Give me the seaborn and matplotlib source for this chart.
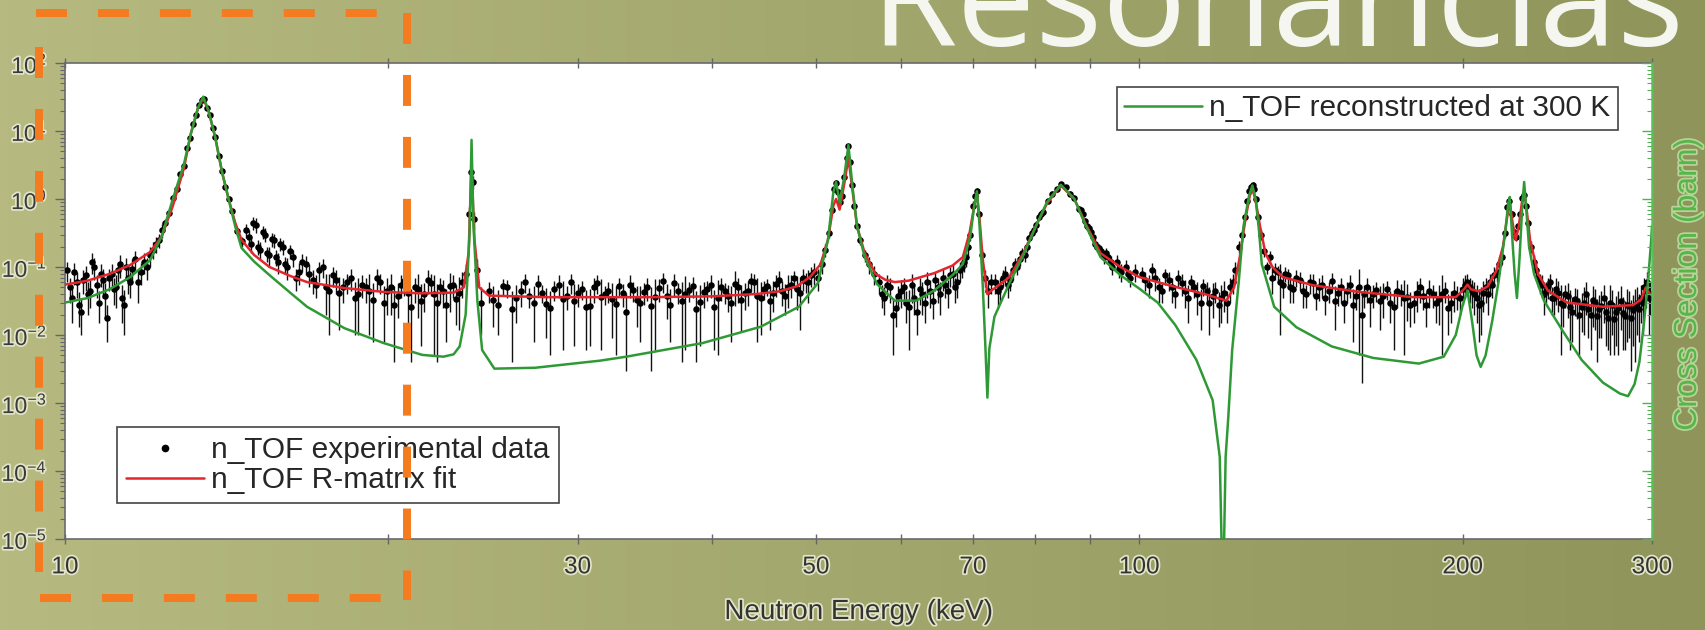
import numpy as np
import matplotlib
matplotlib.use("Agg")
import matplotlib.pyplot as plt
import matplotlib.patheffects as pe
from matplotlib.lines import Line2D
from matplotlib.ticker import FixedLocator, FixedFormatter, NullLocator, NullFormatter
import seaborn as sns

# ---------------- data ----------------
# n_TOF R-matrix fit (red)
fit_energy = [10, 10.5, 11, 11.5, 12, 12.3, 12.6, 12.9, 13.1, 13.3,
              13.45, 13.6, 13.8, 14.0, 14.2, 14.4, 14.6, 15.0, 15.5, 16.2,
              16.8, 18.2, 19.8, 21.5, 23.0, 23.5, 23.75, 23.9, 24.05, 24.3,
              24.8, 28, 35, 40, 44, 46.3, 48, 49.4, 50.5, 51.3,
              51.9, 52.2, 52.6, 53.1, 53.6, 54.1, 54.6, 55.5, 56.8, 58,
              59.2, 61, 64.4, 67, 68.5, 69.5, 70.2, 70.6, 71.0, 71.5,
              72.2, 72.8, 73.5, 75.7, 78, 80, 82, 84.5, 87, 89,
              92, 96, 100, 108, 115, 120.5, 122.5, 124, 125.5, 126.7,
              127.4, 128.2, 129.5, 131, 133, 136, 145, 160, 180, 197,
              200.5, 202, 203.5, 207, 211, 215, 218, 220, 221.2, 222.5,
              224, 225.5, 227, 228.2, 229.5, 231, 235, 240, 250, 270,
              288, 293, 296, 298, 300]
fit_sigma = [0.055, 0.063, 0.079, 0.107, 0.166, 0.28, 0.79, 2.8, 9.3, 22,
             30, 20, 8, 2.5, 1.0, 0.45, 0.25, 0.15, 0.1, 0.074,
             0.060, 0.049, 0.043, 0.041, 0.042, 0.05, 0.16, 2.95, 0.25, 0.05,
             0.038, 0.036, 0.036, 0.037, 0.040, 0.044, 0.052, 0.072, 0.11, 0.25,
             0.8, 1.0, 0.7, 1.6, 4.0, 1.26, 0.4, 0.16, 0.079, 0.065,
             0.060, 0.063, 0.081, 0.105, 0.14, 0.32, 0.8, 1.2, 0.5, 0.126,
             0.04, 0.045, 0.05, 0.071, 0.16, 0.38, 0.85, 1.58, 1.0, 0.45,
             0.16, 0.1, 0.071, 0.051, 0.040, 0.032, 0.05, 0.14, 0.5, 1.12,
             1.41, 1.0, 0.4, 0.16, 0.1, 0.071, 0.054, 0.043, 0.036, 0.036,
             0.047, 0.055, 0.047, 0.044, 0.052, 0.089, 0.2, 0.56, 0.89, 0.45,
             0.25, 0.4, 0.89, 1.26, 0.63, 0.25, 0.079, 0.045, 0.030, 0.026,
             0.0275, 0.033, 0.05, 0.042, 0.038]

# n_TOF reconstructed at 300 K (green)
rec_energy = [10, 10.5, 11, 11.5, 12.0, 12.3, 12.6, 12.9, 13.1, 13.3,
              13.45, 13.6, 13.8, 14.0, 14.2, 14.4, 14.6, 15.0, 15.5, 16.2,
              16.8, 18.2, 19.8, 21.5, 22.5, 23.0, 23.3, 23.6, 23.8, 23.9,
              24.0, 24.2, 24.45, 25.1, 27.4, 31.5, 33.3, 39.2, 44.4, 48.2,
              50.2, 51.3, 51.9, 52.2, 52.6, 53.1, 53.6, 54.1, 54.6, 55.5,
              57, 59.2, 62, 64.4, 67, 68.5, 69.6, 70.2, 70.6, 71.0,
              71.5, 71.9, 72.2, 72.5, 73.3, 75.7, 78, 80, 82, 84.5,
              87, 89, 92, 96, 100, 104, 108, 113, 117, 118.8,
              119.6, 120.3, 121, 122, 123.7, 125, 126.5, 127.4, 128.3, 129.2,
              130, 133.5, 140, 151, 165, 182, 192, 197, 200, 202,
              204, 206, 207.8, 210, 213, 216, 219, 220.5, 221.2, 222.2,
              223.5, 224.6, 225.8, 227.2, 228.1, 229, 230.5, 233, 238, 248,
              258, 270, 280, 285, 289, 292, 295, 297.5, 299.5, 300]
rec_sigma = [0.030, 0.035, 0.047, 0.071, 0.126, 0.28, 1.0, 3.2, 9.3, 22,
             32, 20, 8, 2.5, 1.0, 0.4, 0.19, 0.12, 0.076, 0.042,
             0.026, 0.0126, 0.0076, 0.0051, 0.0048, 0.0052, 0.0068, 0.02, 0.32, 7.4,
             0.4, 0.032, 0.006, 0.0032, 0.0033, 0.0042, 0.0048, 0.0076, 0.0132, 0.026,
             0.058, 0.25, 1.26, 1.78, 0.89, 2.0, 6.2, 1.4, 0.4, 0.14,
             0.056, 0.032, 0.032, 0.045, 0.076, 0.11, 0.28, 0.8, 1.3, 0.4,
             0.05, 0.0063, 0.0012, 0.0063, 0.0186, 0.058, 0.15, 0.38, 0.89, 1.62,
             1.0, 0.43, 0.14, 0.076, 0.048, 0.030, 0.014, 0.0043, 0.0011, 0.00016,
             1e-6, 0.00016, 0.00063, 0.006, 0.058, 0.4, 1.12, 1.58, 1.0, 0.35,
             0.11, 0.026, 0.013, 0.0068, 0.0046, 0.0038, 0.0048, 0.01, 0.028, 0.045,
             0.016, 0.005, 0.0034, 0.005, 0.016, 0.063, 0.32, 0.89, 1.07, 0.32,
             0.079, 0.035, 0.126, 0.8, 1.78, 0.8, 0.2, 0.079, 0.032, 0.0112,
             0.0043, 0.002, 0.00138, 0.00126, 0.0019, 0.004, 0.016, 0.063, 0.25, 0.4]

# n_TOF experimental data (energy keV, cross section barn, uncertainty barn)
exp_E_a = [10.05, 10.15, 10.25, 10.35, 10.45, 10.55, 10.65, 10.75, 10.85, 10.95, 11.05,
           11.15, 11.25, 11.35, 11.45, 11.55, 11.7, 11.85, 12.0, 12.15, 12.3,
           10.1, 10.2, 10.3, 10.4, 10.5, 10.6, 10.7, 10.8, 10.9, 11.0,
           11.1, 11.2, 11.3, 11.4, 11.5, 11.62, 11.77, 11.92, 12.07, 12.22]
exp_S_a = [0.09, 0.035, 0.06, 0.022, 0.075, 0.045, 0.1, 0.03, 0.065, 0.018, 0.08,
           0.05, 0.11, 0.028, 0.07, 0.095, 0.06, 0.12, 0.15, 0.22, 0.35,
           0.05, 0.085, 0.028, 0.065, 0.04, 0.12, 0.055, 0.08, 0.038, 0.07,
           0.048, 0.09, 0.035, 0.1, 0.06, 0.13, 0.085, 0.1, 0.18, 0.25]
exp_D_a = [0.03, 0.02, 0.025, 0.012, 0.03, 0.02, 0.035, 0.015, 0.03, 0.01, 0.03,
           0.025, 0.04, 0.018, 0.03, 0.035, 0.03, 0.04, 0.05, 0.06, 0.08,
           0.02, 0.03, 0.015, 0.025, 0.02, 0.04, 0.02, 0.03, 0.02, 0.025,
           0.02, 0.03, 0.02, 0.035, 0.025, 0.04, 0.03, 0.035, 0.05, 0.06]

exp_E_b = [12.4, 12.5, 12.6, 12.7, 12.8, 12.9, 13.0, 13.08, 13.16, 13.24, 13.32, 13.4,
           13.48, 13.56, 13.64, 13.72, 13.8, 13.9, 14.0, 14.1, 14.2, 14.3, 14.45, 14.6]
exp_S_b = [0.45, 0.62, 1.05, 1.4, 2.3, 3.1, 5.6, 8.0, 12.5, 17, 24, 29,
           30, 22, 17, 11, 8.2, 4.3, 2.6, 1.5, 1.0, 0.66, 0.34, 0.24]
exp_D_b = [0.05, 0.06, 0.09, 0.12, 0.2, 0.25, 0.45, 0.6, 1.0, 1.3, 1.8, 2.2,
           2.3, 1.7, 1.3, 0.9, 0.65, 0.35, 0.22, 0.13, 0.09, 0.06, 0.04, 0.04]

exp_E_c = [14.75, 14.9, 15.05, 15.2, 15.35, 15.5, 15.65, 15.8, 15.95, 16.1, 16.3, 16.5,
           16.75, 17.0, 17.25, 17.5, 17.75, 18.0, 18.3, 18.6, 18.9, 19.2, 19.5, 19.8,
           20.1, 20.4, 20.7, 21.0, 21.3, 21.6, 21.9, 22.2, 22.5, 22.8, 23.1, 23.4,
           14.82, 14.97, 15.12, 15.27, 15.42, 15.57, 15.72, 15.87, 16.02, 16.2,
           16.4, 16.62, 16.87, 17.12, 17.37, 17.62, 17.87, 18.15, 18.45, 18.75,
           19.05, 19.35, 19.65, 19.95, 20.25, 20.55, 20.85, 21.15, 21.45, 21.75,
           22.05, 22.35, 22.65, 22.95, 23.25]
exp_S_c = [0.35, 0.22, 0.42, 0.18, 0.3, 0.15, 0.25, 0.12, 0.2, 0.1, 0.14, 0.085,
           0.11, 0.065, 0.09, 0.05, 0.075, 0.042, 0.06, 0.035, 0.055, 0.045, 0.07, 0.03,
           0.05, 0.038, 0.062, 0.026, 0.048, 0.04, 0.058, 0.03, 0.045, 0.052, 0.034, 0.06,
           0.28, 0.45, 0.2, 0.33, 0.16, 0.26, 0.14, 0.22, 0.11, 0.17,
           0.07, 0.12, 0.08, 0.055, 0.1, 0.045, 0.065, 0.05, 0.07, 0.04,
           0.05, 0.033, 0.06, 0.045, 0.028, 0.055, 0.042, 0.05, 0.032, 0.065,
           0.04, 0.05, 0.028, 0.055, 0.042]
exp_D_c = [0.08, 0.06, 0.1, 0.05, 0.07, 0.05, 0.06, 0.04, 0.05, 0.035, 0.04, 0.03,
           0.035, 0.025, 0.03, 0.03, 0.025, 0.03, 0.02, 0.025, 0.02, 0.035, 0.025, 0.022,
           0.03, 0.02, 0.025, 0.022, 0.03, 0.018, 0.02, 0.026, 0.02, 0.03, 0.02, 0.025,
           0.07, 0.1, 0.05, 0.07, 0.04, 0.06, 0.035, 0.05, 0.03, 0.04,
           0.025, 0.035, 0.03, 0.02, 0.03, 0.035, 0.025, 0.02, 0.025, 0.03,
           0.02, 0.025, 0.02, 0.025, 0.024, 0.02, 0.03, 0.02, 0.025, 0.025,
           0.035, 0.02, 0.02, 0.02, 0.03]

exp_E_d = [23.6, 23.75, 23.85, 23.95, 24.05, 24.2, 24.4]
exp_S_d = [0.08, 0.6, 2.5, 1.8, 0.5, 0.09, 0.03]
exp_D_d = [0.03, 0.15, 0.5, 0.4, 0.15, 0.04, 0.02]

exp_E_e = [24.8, 25.3, 25.8, 26.3, 26.8, 27.3, 27.8, 28.3, 28.8, 29.3,
           29.8, 30.3, 30.8, 31.3, 31.8, 32.3, 32.8, 33.3, 33.8, 34.3,
           34.8, 35.4, 36.0, 36.6, 37.2, 37.8, 38.4, 39.0, 39.6, 40.2,
           40.8, 41.4, 42.0, 42.6, 43.2, 43.8, 44.4, 45.0, 45.6, 46.2,
           46.8, 47.4, 48.0, 48.6, 49.2, 49.8,
           25.05, 25.55, 26.05, 26.55, 27.05, 27.55, 28.05, 28.55, 29.05, 29.55,
           30.05, 30.55, 31.05, 31.55, 32.05, 32.55, 33.05, 33.55, 34.05, 34.55,
           35.1, 35.7, 36.3, 36.9, 37.5, 38.1, 38.7, 39.3, 39.9, 40.5,
           41.1, 41.7, 42.3, 42.9, 43.5, 44.1, 44.7, 45.3, 45.9, 46.5,
           47.1, 47.7, 48.3, 48.9, 49.5]
exp_S_e = [0.045, 0.028, 0.05, 0.035, 0.06, 0.03, 0.042, 0.025, 0.055, 0.038,
           0.032, 0.048, 0.027, 0.058, 0.04, 0.034, 0.052, 0.022, 0.046, 0.03,
           0.05, 0.036, 0.062, 0.028, 0.044, 0.04, 0.053, 0.031, 0.047, 0.026,
           0.05, 0.038, 0.057, 0.033, 0.045, 0.06, 0.035, 0.052, 0.042, 0.065,
           0.038, 0.055, 0.048, 0.07, 0.06, 0.085,
           0.033, 0.052, 0.024, 0.044, 0.037, 0.056, 0.029, 0.047, 0.034, 0.06,
           0.041, 0.026, 0.05, 0.036, 0.045, 0.029, 0.041, 0.055, 0.033, 0.043,
           0.027, 0.049, 0.037, 0.058, 0.032, 0.046, 0.024, 0.043, 0.055, 0.035,
           0.044, 0.03, 0.05, 0.041, 0.063, 0.038, 0.048, 0.032, 0.056, 0.045,
           0.05, 0.068, 0.042, 0.062, 0.075]
exp_D_e = [0.015, 0.018, 0.015, 0.02, 0.018, 0.022, 0.012, 0.02, 0.02, 0.015,
           0.025, 0.015, 0.02, 0.018, 0.012, 0.025, 0.016, 0.019, 0.015, 0.022,
           0.018, 0.03, 0.02, 0.02, 0.015, 0.034, 0.018, 0.024, 0.015, 0.02,
           0.018, 0.016, 0.03, 0.022, 0.018, 0.02, 0.025, 0.015, 0.02, 0.022,
           0.018, 0.02, 0.025, 0.025, 0.03, 0.03,
           0.02, 0.015, 0.02, 0.018, 0.012, 0.02, 0.02, 0.015, 0.028, 0.02,
           0.015, 0.02, 0.02, 0.03, 0.015, 0.024, 0.015, 0.02, 0.02, 0.015,
           0.024, 0.018, 0.02, 0.02, 0.028, 0.015, 0.02, 0.018, 0.02, 0.03,
           0.015, 0.022, 0.02, 0.018, 0.02, 0.03, 0.015, 0.02, 0.02, 0.018,
           0.025, 0.02, 0.03, 0.02, 0.025]

exp_E_f = [50.2, 50.6, 51.0, 51.4, 51.7, 52.0, 52.2, 52.4, 52.65, 52.9, 53.15,
           53.4, 53.6, 53.8, 54.05, 54.3, 54.6, 55.0, 55.5, 56.0, 56.6]
exp_S_f = [0.07, 0.11, 0.18, 0.32, 0.7, 1.4, 1.7, 1.25, 0.9, 1.1, 2.1,
           4.0, 6.0, 3.5, 1.6, 0.8, 0.4, 0.25, 0.15, 0.11, 0.08]
exp_D_f = [0.025, 0.03, 0.04, 0.05, 0.08, 0.15, 0.18, 0.13, 0.1, 0.12, 0.2,
           0.35, 0.5, 0.3, 0.15, 0.08, 0.05, 0.04, 0.03, 0.03, 0.025]

exp_E_g = [57.2, 57.9, 58.6, 59.3, 60.0, 60.7, 61.4, 62.1, 62.8, 63.5,
           64.2, 64.9, 65.6, 66.3, 67.0, 67.7, 68.4, 69.0, 69.5, 70.0,
           57.55, 58.25, 58.95, 59.65, 60.35, 61.05, 61.75, 62.45, 63.15, 63.85,
           64.55, 65.25, 65.95, 66.65, 67.35, 68.05, 68.7, 69.25]
exp_S_g = [0.06, 0.035, 0.05, 0.025, 0.045, 0.03, 0.055, 0.022, 0.04, 0.06,
           0.032, 0.05, 0.07, 0.045, 0.08, 0.06, 0.1, 0.14, 0.3, 0.8,
           0.04, 0.055, 0.02, 0.038, 0.05, 0.026, 0.035, 0.048, 0.03, 0.045,
           0.065, 0.04, 0.055, 0.075, 0.05, 0.09, 0.12, 0.2]
exp_D_g = [0.02, 0.015, 0.02, 0.012, 0.02, 0.015, 0.025, 0.012, 0.02, 0.025,
           0.015, 0.02, 0.025, 0.02, 0.03, 0.025, 0.03, 0.04, 0.06, 0.12,
           0.015, 0.02, 0.015, 0.015, 0.02, 0.02, 0.015, 0.02, 0.015, 0.02,
           0.02, 0.02, 0.02, 0.025, 0.02, 0.03, 0.035, 0.05]

exp_E_h = [70.3, 70.6, 70.9, 71.3, 71.8, 72.3, 72.8]
exp_S_h = [1.1, 1.3, 0.6, 0.15, 0.07, 0.045, 0.06]
exp_D_h = [0.12, 0.13, 0.07, 0.03, 0.02, 0.02, 0.02]

exp_E_i = [73.4, 74.2, 75.0, 75.8, 76.6, 77.4, 78.2, 79.0, 79.8, 80.6,
           81.4, 82.2, 83.0, 83.8, 84.6, 85.4, 86.2, 87.0, 87.8, 88.6,
           89.4, 90.2, 91.0, 91.8, 92.6, 93.5, 94.4, 95.3, 96.2, 97.1,
           98.0, 99.0,
           73.8, 74.6, 75.4, 76.2, 77.0, 77.8, 78.6, 79.4, 80.2, 81.0,
           88.2, 89.0, 89.8, 90.6, 91.4, 92.2, 93.0, 94.0, 95.8, 97.6]
exp_S_i = [0.06, 0.05, 0.08, 0.065, 0.11, 0.13, 0.15, 0.27, 0.35, 0.55,
           0.65, 0.95, 1.2, 1.4, 1.65, 1.5, 1.2, 1.05, 0.72, 0.6,
           0.4, 0.33, 0.22, 0.19, 0.14, 0.14, 0.1, 0.12, 0.085, 0.1,
           0.07, 0.085,
           0.045, 0.07, 0.055, 0.09, 0.1, 0.16, 0.2, 0.32, 0.42, 0.6,
           0.68, 0.48, 0.38, 0.28, 0.2, 0.17, 0.16, 0.12, 0.095, 0.08]
exp_D_i = [0.02, 0.02, 0.025, 0.02, 0.025, 0.025, 0.03, 0.04, 0.05, 0.06,
           0.07, 0.09, 0.1, 0.12, 0.13, 0.12, 0.1, 0.09, 0.07, 0.06,
           0.05, 0.04, 0.035, 0.03, 0.03, 0.03, 0.025, 0.03, 0.025, 0.025,
           0.02, 0.025,
           0.02, 0.02, 0.02, 0.025, 0.025, 0.03, 0.035, 0.045, 0.05, 0.06,
           0.07, 0.05, 0.045, 0.04, 0.035, 0.03, 0.03, 0.025, 0.025, 0.02]

exp_E_j = [100.5, 102, 103.5, 105, 106.5, 108, 109.5, 111, 112.5, 114,
           115.5, 117, 118.5, 120, 121.5, 122.8, 123.8,
           101.2, 102.7, 104.2, 105.7, 107.2, 108.7, 110.2, 111.7, 113.2, 114.7,
           116.2, 117.7, 119.2, 120.7, 122.2]
exp_S_j = [0.08, 0.055, 0.07, 0.045, 0.065, 0.04, 0.058, 0.035, 0.05, 0.03,
           0.045, 0.038, 0.028, 0.042, 0.05, 0.09, 0.2,
           0.065, 0.09, 0.05, 0.075, 0.05, 0.07, 0.045, 0.06, 0.04, 0.052,
           0.03, 0.045, 0.035, 0.03, 0.06]
exp_D_j = [0.02, 0.02, 0.025, 0.015, 0.02, 0.015, 0.02, 0.02, 0.015, 0.018,
           0.015, 0.02, 0.015, 0.02, 0.02, 0.03, 0.04,
           0.02, 0.025, 0.02, 0.02, 0.02, 0.02, 0.02, 0.015, 0.02, 0.015,
           0.02, 0.015, 0.02, 0.015, 0.02]

exp_E_k = [124.6, 125.3, 126.0, 126.6, 127.1, 127.5, 127.9, 128.4, 129.0, 129.7, 130.5]
exp_S_k = [0.3, 0.55, 0.95, 1.3, 1.5, 1.6, 1.4, 1.0, 0.55, 0.3, 0.17]
exp_D_k = [0.05, 0.07, 0.1, 0.13, 0.15, 0.15, 0.13, 0.1, 0.07, 0.05, 0.03]

exp_E_l = [131.5, 133, 134.5, 136, 137.5, 139, 141, 143, 145, 147,
           149, 151, 153, 155, 157, 159, 161, 163, 165, 167.5,
           170, 172.5, 175, 177.5, 180, 182.5, 185, 187.5, 190, 192.5,
           195, 197.5, 200, 202, 204, 206, 208, 210, 212, 214, 216,
           132.2, 133.7, 135.2, 136.7, 138.2, 140, 142, 144, 146, 148,
           150, 152, 154, 156, 158, 160, 162, 164, 166.2, 168.7,
           171.2, 173.7, 176.2, 178.7, 181.2, 183.7, 186.2, 188.7, 191.2, 193.7,
           196.2, 198.7, 201, 203, 205, 207, 209, 211, 213, 215]
exp_S_l = [0.1, 0.07, 0.085, 0.055, 0.075, 0.048, 0.065, 0.04, 0.058, 0.05,
           0.035, 0.062, 0.042, 0.03, 0.055, 0.038, 0.02, 0.05, 0.04, 0.032,
           0.048, 0.026, 0.042, 0.036, 0.03, 0.05, 0.028, 0.04, 0.034, 0.045,
           0.03, 0.038, 0.048, 0.06, 0.045, 0.035, 0.03, 0.05, 0.06, 0.075, 0.11,
           0.14, 0.09, 0.06, 0.08, 0.05, 0.07, 0.045, 0.06, 0.038, 0.055,
           0.045, 0.032, 0.05, 0.045, 0.028, 0.05, 0.04, 0.033, 0.046, 0.038,
           0.03, 0.045, 0.035, 0.028, 0.042, 0.038, 0.045, 0.03, 0.04, 0.025,
           0.042, 0.035, 0.055, 0.05, 0.04, 0.028, 0.042, 0.04, 0.055, 0.085]
exp_D_l = [0.02, 0.03, 0.02, 0.02, 0.02, 0.018, 0.02, 0.015, 0.02, 0.018,
           0.015, 0.02, 0.015, 0.015, 0.02, 0.015, 0.018, 0.02, 0.015, 0.02,
           0.015, 0.02, 0.015, 0.02, 0.015, 0.02, 0.015, 0.015, 0.02, 0.015,
           0.015, 0.015, 0.02, 0.02, 0.02, 0.02, 0.02, 0.02, 0.02, 0.025, 0.03,
           0.03, 0.025, 0.05, 0.02, 0.02, 0.02, 0.02, 0.02, 0.015, 0.02,
           0.015, 0.02, 0.02, 0.015, 0.02, 0.045, 0.015, 0.02, 0.015, 0.02,
           0.015, 0.02, 0.03, 0.015, 0.02, 0.015, 0.02, 0.015, 0.035, 0.015,
           0.02, 0.015, 0.02, 0.02, 0.02, 0.02, 0.02, 0.02, 0.02, 0.025]

exp_E_m = [217.5, 219, 220, 221, 222, 223, 224, 225, 226, 227, 228, 229, 230, 231.5]
exp_S_m = [0.14, 0.32, 0.75, 0.95, 0.6, 0.33, 0.28, 0.4, 0.6, 1.05, 1.15, 0.8, 0.45, 0.2]
exp_D_m = [0.03, 0.05, 0.08, 0.1, 0.07, 0.05, 0.04, 0.05, 0.07, 0.1, 0.12, 0.08, 0.06, 0.04]

exp_E_n = [233, 235, 237, 239, 241, 243, 245.5, 248, 250.5, 253,
           255.5, 258, 260.5, 263, 265.5, 268, 270.5, 273, 275.5, 278,
           280.5, 283, 285.5, 288, 290.5, 293, 295, 297, 299,
           234, 236, 238, 240, 242, 244.2, 246.7, 249.2, 251.7, 254.2,
           256.7, 259.2, 261.7, 264.2, 266.7, 269.2, 271.7, 274.2, 276.7, 279.2,
           281.7, 284.2, 286.7, 289.2, 291.7, 294, 296, 298]
exp_S_n = [0.12, 0.07, 0.055, 0.045, 0.06, 0.035, 0.042, 0.028, 0.038, 0.022,
           0.032, 0.026, 0.04, 0.02, 0.03, 0.024, 0.035, 0.018, 0.028, 0.022,
           0.032, 0.019, 0.027, 0.023, 0.03, 0.035, 0.05, 0.06, 0.04,
           0.09, 0.06, 0.04, 0.052, 0.035, 0.048, 0.03, 0.04, 0.026, 0.034,
           0.02, 0.03, 0.024, 0.033, 0.019, 0.027, 0.022, 0.03, 0.017, 0.025,
           0.021, 0.028, 0.018, 0.026, 0.024, 0.03, 0.045, 0.035]
exp_D_n = [0.03, 0.02, 0.02, 0.015, 0.02, 0.015, 0.02, 0.015, 0.02, 0.014,
           0.015, 0.015, 0.02, 0.014, 0.018, 0.015, 0.02, 0.012, 0.018, 0.015,
           0.02, 0.013, 0.018, 0.016, 0.02, 0.02, 0.02, 0.025, 0.02,
           0.025, 0.02, 0.02, 0.018, 0.015, 0.02, 0.025, 0.015, 0.02, 0.015,
           0.015, 0.02, 0.015, 0.02, 0.015, 0.018, 0.015, 0.025, 0.012, 0.02,
           0.015, 0.02, 0.015, 0.022, 0.016, 0.02, 0.02, 0.025]

x_tick_values = [10, 20, 30, 40, 50, 60, 70, 80, 90, 100, 200, 300]
x_tick_labels = ['10', '', '30', '', '50', '', '70', '', '', '100', '200', '300']
y_tick_values = [1e-5, 1e-4, 1e-3, 1e-2, 1e-1, 1e0, 1e1, 1e2]
y_tick_labels = ['$10^{-5}$', '$10^{-4}$', '$10^{-3}$', '$10^{-2}$',
                 '$10^{-1}$', '$10^{0}$', '$10^{1}$', '$10^{2}$']

# ---------------- assemble ----------------
exp_energy = np.array(exp_E_a + exp_E_b + exp_E_c + exp_E_d + exp_E_e + exp_E_f + exp_E_g
                      + exp_E_h + exp_E_i + exp_E_j + exp_E_k + exp_E_l + exp_E_m + exp_E_n)
exp_sigma = np.array(exp_S_a + exp_S_b + exp_S_c + exp_S_d + exp_S_e + exp_S_f + exp_S_g
                     + exp_S_h + exp_S_i + exp_S_j + exp_S_k + exp_S_l + exp_S_m + exp_S_n)
exp_err = np.array(exp_D_a + exp_D_b + exp_D_c + exp_D_d + exp_D_e + exp_D_f + exp_D_g
                   + exp_D_h + exp_D_i + exp_D_j + exp_D_k + exp_D_l + exp_D_m + exp_D_n)

# ---------------- style ----------------
sns.set_style("white")
plt.rcParams['font.family'] = ['Liberation Sans', 'DejaVu Sans']
plt.rcParams['mathtext.fontset'] = 'custom'
plt.rcParams['mathtext.rm'] = 'Liberation Sans'
plt.rcParams['mathtext.it'] = 'Liberation Sans:italic'
plt.rcParams['mathtext.default'] = 'regular'
plt.rcParams['lines.scale_dashes'] = False

W, H = 1706, 630
RED = '#e3262d'
GREEN = '#2f9a35'
fig = plt.figure(figsize=(W / 100, H / 100), dpi=100)

# slide background (olive gradient)
bg = fig.add_axes([0, 0, 1, 1], zorder=-10)
bg.set_axis_off()
c_left = np.array([182, 186, 128]) / 255
c_right = np.array([142, 148, 90]) / 255
tt = np.linspace(0, 1, 256)[:, None]
grad = c_left[None, :] * (1 - tt) + c_right[None, :] * tt
bg.imshow(grad[None, :, :], aspect='auto', extent=[0, 1, 0, 1])

# slide title, cut off at the top
fig.text(870 / W, 1 - 46 / H, 'Resonancias', fontsize=101, color='#f6f6f0',
         family=['Open Sans', 'DejaVu Sans'], ha='left', va='baseline')

# main axes
AX_L, AX_R, AX_T, AX_B = 65, 1652, 63, 539
ax = fig.add_axes([AX_L / W, 1 - AX_B / H, (AX_R - AX_L) / W, (AX_B - AX_T) / H])
ax.set_facecolor('white')
ax.set_xscale('log')
ax.set_yscale('log')

lower = np.minimum(exp_err, 0.95 * exp_sigma)
ax.errorbar(exp_energy, exp_sigma, yerr=[lower, exp_err], fmt='none',
            ecolor='#111111', elinewidth=1.0, zorder=2)
sns.scatterplot(x=exp_energy, y=exp_sigma, ax=ax, color='black', s=22,
                linewidth=0, zorder=3, legend=False)
sns.lineplot(x=fit_energy, y=fit_sigma, ax=ax, color=RED, linewidth=1.8,
             estimator=None, sort=False, zorder=4)
sns.lineplot(x=rec_energy, y=rec_sigma, ax=ax, color=GREEN, linewidth=1.8,
             estimator=None, sort=False, zorder=5)

ax.set_xlim(10, 300)
ax.set_ylim(1e-5, 1e2)

halo = [pe.withStroke(linewidth=2.5, foreground='#e2e5c8')]
ax.xaxis.set_major_locator(FixedLocator(x_tick_values))
ax.xaxis.set_major_formatter(FixedFormatter(x_tick_labels))
ax.xaxis.set_minor_locator(NullLocator())
ax.yaxis.set_major_locator(FixedLocator(y_tick_values))
ax.yaxis.set_major_formatter(FixedFormatter(y_tick_labels))
minor_y = [m * 10.0 ** e for e in range(-5, 2) for m in range(2, 10)]
ax.yaxis.set_minor_locator(FixedLocator(minor_y))
ax.yaxis.set_minor_formatter(NullFormatter())

ax.tick_params(axis='x', which='major', direction='inout', length=7, width=1,
               color='#666666', labelcolor='#333333', labelsize=17.5, pad=9,
               top=True, bottom=True)
ax.tick_params(axis='y', which='major', direction='out', length=7, width=1,
               color='#666666', labelcolor='#3a3a3a', labelsize=16.5, pad=6)
ax.tick_params(axis='y', which='minor', direction='out', length=3.5, width=0.8,
               color='#666666')
for lab in ax.get_xticklabels() + ax.get_yticklabels():
    lab.set_path_effects(halo)

for side in ['left', 'top', 'bottom']:
    ax.spines[side].set_color('#6a6a6a')
    ax.spines[side].set_linewidth(1.2)
ax.spines['right'].set_visible(False)

ax.set_xlabel('Neutron Energy (keV)', fontsize=20, color='#333333')
ax.xaxis.label.set_va('center')
ax.xaxis.set_label_coords(0.5, (AX_B - 612) / (AX_B - AX_T))
ax.xaxis.label.set_path_effects(halo)
ax.set_ylabel('')

# right axis (green)
ax2 = ax.twinx()
ax2.set_yscale('log')
ax2.set_ylim(1e-5, 1e2)
ax2.yaxis.set_major_locator(FixedLocator(y_tick_values))
ax2.yaxis.set_minor_locator(FixedLocator(minor_y))
ax2.yaxis.set_major_formatter(NullFormatter())
ax2.yaxis.set_minor_formatter(NullFormatter())
ax2.tick_params(axis='y', which='major', direction='in', length=7, width=1, color='#55b055')
ax2.tick_params(axis='y', which='minor', direction='in', length=3.5, width=0.8, color='#55b055')
for side in ['left', 'top', 'bottom']:
    ax2.spines[side].set_visible(False)
ax2.spines['right'].set_color('#58c058')
ax2.spines['right'].set_linewidth(1.8)
ax2.set_ylabel('Cross Section (barn)', fontsize=23, color='#56b64a')
ax2.yaxis.label.set_va('center')
ax2.yaxis.label.set_ha('center')
ax2.yaxis.set_label_coords((1688 - AX_L) / (AX_R - AX_L), (AX_B - 284) / (AX_B - AX_T))
ax2.yaxis.label.set_path_effects([pe.withStroke(linewidth=2.5, foreground='#b9d39a')])

# legends
h_exp = Line2D([], [], marker='o', color='black', linestyle='none', markersize=4.5)
h_fit = Line2D([], [], color=RED, lw=1.8)
h_rec = Line2D([], [], color=GREEN, lw=1.8)
leg_kw = dict(frameon=True, fancybox=False, edgecolor='#444444', framealpha=1,
              fontsize=21.5, borderaxespad=0, handletextpad=0.25, shadow=False)
leg1 = ax.legend([h_exp, h_fit], ['n_TOF experimental data', 'n_TOF R-matrix fit'],
                 loc='upper left',
                 bbox_to_anchor=((117 - AX_L) / (AX_R - AX_L), (AX_B - 427) / (AX_B - AX_T)),
                 handlelength=2.6, borderpad=0.3, labelspacing=0.07, **leg_kw)
leg1.get_frame().set_linewidth(1.2)
ax.add_artist(leg1)
leg2 = ax.legend([h_rec], ['n_TOF reconstructed at 300 K'], loc='upper right',
                 bbox_to_anchor=((1618 - AX_L) / (AX_R - AX_L), (AX_B - 87) / (AX_B - AX_T)),
                 handlelength=2.6, borderpad=0.25, **leg_kw)
leg2.get_frame().set_linewidth(1.2)

# orange dashed highlight frame (slide annotation)
ov = fig.add_axes([0, 0, 1, 1], zorder=20)
ov.set_xlim(0, W)
ov.set_ylim(H, 0)
ov.set_axis_off()
ov.patch.set_alpha(0)
dash = (0, (22.3, 22.3))
okw = dict(color='#f47b20', lw=5.76, linestyle=dash, dash_capstyle='butt', solid_capstyle='butt')
ov.plot([36, 380], [13, 13], **okw)
ov.plot([40, 383], [598, 598], **okw)
ov.plot([39, 39], [47, 572], **okw)
ov.plot([407, 407], [13, 600], **okw)

fig.savefig('out.png', dpi=100)
